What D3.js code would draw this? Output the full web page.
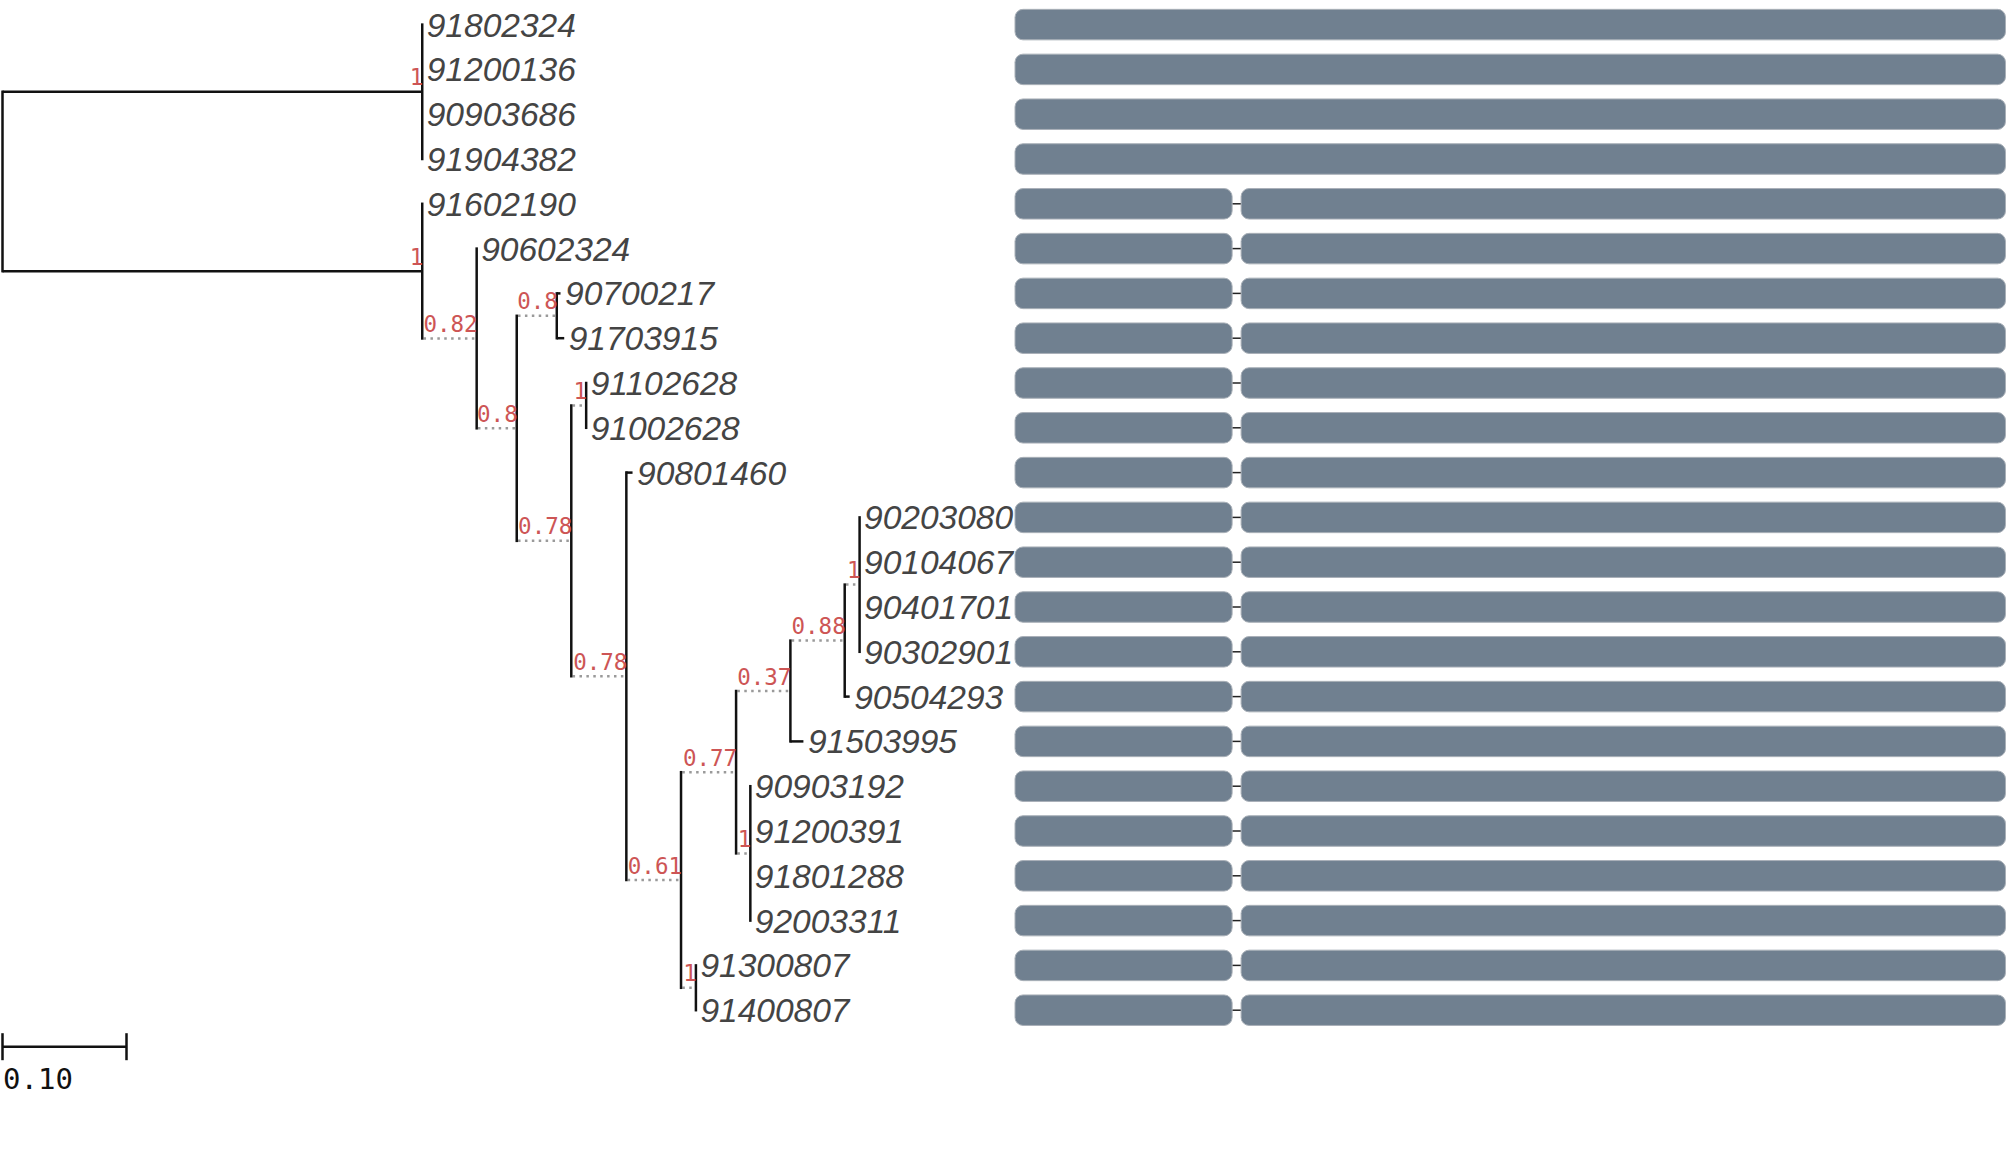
<!DOCTYPE html>
<html>
<head>
<meta charset="utf-8">
<script src="https://cdn.jsdelivr.net/npm/d3@7"></script>
<style>
  body { margin: 0; background: #fff; }
  svg { display: block; }
</style>
</head>
<body>
<div id="chart"></div>
<script>
// tree: node names, parent, branch length, support (null = none)
const nodeNames = ["root", "A", "91802324", "91200136", "90903686", "91904382",
  "B", "91602190", "C", "90602324", "D", "E", "90700217", "91703915",
  "F", "G", "91102628", "91002628", "H", "90801460", "I", "J", "L", "N", "O",
  "90203080", "90104067", "90401701", "90302901", "90504293", "91503995",
  "M", "90903192", "91200391", "91801288", "92003311",
  "K", "91300807", "91400807"];
const nodeParents = ["", "root", "A", "A", "A", "A",
  "root", "B", "B", "C", "C", "D", "E", "E",
  "D", "F", "G", "G", "F", "H", "H", "I", "J", "L", "N",
  "O", "O", "O", "O", "N", "L",
  "J", "M", "M", "M", "M",
  "I", "K", "K"];
const branchLengths = [0, 0.3385, 0, 0, 0, 0,
  0.3385, 0, 0.0439, 0, 0.0323, 0.0323, 0.003, 0.006,
  0.044, 0.012, 0, 0, 0.0444, 0.005, 0.0441, 0.0444, 0.0438, 0.0438, 0.012,
  0, 0, 0, 0, 0.004, 0.0105,
  0.0115, 0, 0, 0, 0,
  0.012, 0, 0];
const supports = [null, 1, null, null, null, null,
  1, null, 0.82, null, 0.8, 0.8, null, null,
  0.78, 1, null, null, 0.78, null, 0.61, 0.77, 0.37, 0.88, 1,
  null, null, null, null, null, null,
  1, null, null, null, null,
  1, null, null];

// gene structure per leaf (sequence coordinates)
const fullGene = [[0, 990]];
const splitGene = [[0, 217], [226, 990]];
const leafGeneModel = ["full", "full", "full", "full",
  "split", "split", "split", "split", "split", "split", "split", "split",
  "split", "split", "split", "split", "split", "split", "split", "split",
  "split", "split", "split"];
const seqLength = 990;
const scaleBarValue = 0.10;

const width = 2007, height = 1159;
const svg = d3.select("#chart").append("svg")
  .attr("width", width).attr("height", height);

const table = nodeNames.map((n, i) => ({
  id: n, parent: nodeParents[i] || null, len: branchLengths[i], support: supports[i]
}));
const root = d3.stratify().id(d => d.id).parentId(d => d.parent)(table);

const x = d3.scaleLinear().domain([0, 1]).range([2.5, 1242.5]);
const leaves = root.leaves();
const y = d3.scalePoint().domain(leaves.map(d => d.id)).range([24.6, 1010.2]);

root.eachBefore(d => { d.dist = d.parent ? d.parent.dist + d.data.len : 0; });
root.eachAfter(d => {
  d.px = x(d.dist);
  d.py = d.children ? (d.children[0].py + d.children[d.children.length - 1].py) / 2 : y(d.id);
});

const g = svg.append("g");

// horizontal branches
root.descendants().filter(d => d.parent).forEach(d => {
  const dotted = d.children && d.parent.parent;
  g.append("line")
    .attr("x1", d.parent.px + (dotted ? 1.3 : 0)).attr("x2", d.px)
    .attr("y1", d.py).attr("y2", d.py)
    .attr("stroke", dotted ? "#9a9a9a" : "#111")
    .attr("stroke-width", 2.5)
    .attr("stroke-dasharray", dotted ? "2.5,4.4" : null);
});

// vertical lines
root.descendants().filter(d => d.children).forEach(d => {
  const c = d.children;
  g.append("line")
    .attr("x1", d.px).attr("x2", d.px)
    .attr("y1", c[0].py).attr("y2", c[c.length - 1].py)
    .attr("stroke", "#111").attr("stroke-width", 2.5)
    .attr("stroke-linecap", "square");
});

// support values
g.selectAll(".support")
  .data(root.descendants().filter(d => d.data.support != null))
  .enter().append("text")
  .attr("class", "support")
  .attr("x", d => d.px + 1)
  .attr("y", d => d.py - 6.5)
  .attr("text-anchor", "end")
  .attr("font-family", "DejaVu Sans Mono")
  .attr("font-size", 22.5)
  .attr("fill", "#cd5555")
  .text(d => d.data.support);

// leaf labels
g.selectAll(".leaf")
  .data(leaves)
  .enter().append("text")
  .attr("class", "leaf")
  .attr("x", d => d.px + 4.5)
  .attr("y", d => d.py + 12)
  .attr("font-family", "Liberation Sans")
  .attr("font-style", "italic")
  .attr("font-size", 33.5)
  .attr("fill", "#444")
  .text(d => d.id);

// gene structures
const sx = d3.scaleLinear().domain([0, seqLength]).range([1015, 2005.5]);
const barH = 30.5;
leaves.forEach((d, i) => {
  const parts = leafGeneModel[i] === "full" ? fullGene : splitGene;
  const row = svg.append("g");
  for (let k = 1; k < parts.length; k++) {
    row.append("line")
      .attr("x1", sx(parts[k - 1][1])).attr("x2", sx(parts[k][0]))
      .attr("y1", d.py).attr("y2", d.py)
      .attr("stroke", "#222").attr("stroke-width", 1.5);
  }
  parts.forEach(p => {
    row.append("rect")
      .attr("x", sx(p[0])).attr("y", d.py - barH / 2)
      .attr("width", sx(p[1]) - sx(p[0])).attr("height", barH)
      .attr("rx", 8).attr("ry", 8)
      .attr("fill", "#708090")
      .attr("stroke", "#a9b0b8").attr("stroke-width", 1);
  });
});

// scale bar
const sb = svg.append("g").attr("stroke", "#111").attr("stroke-width", 2.5);
const sbY = 1046.7;
sb.append("line").attr("x1", x(0)).attr("x2", x(scaleBarValue)).attr("y1", sbY).attr("y2", sbY);
sb.append("line").attr("x1", x(0)).attr("x2", x(0)).attr("y1", sbY - 13.5).attr("y2", sbY + 13.5);
sb.append("line").attr("x1", x(scaleBarValue)).attr("x2", x(scaleBarValue)).attr("y1", sbY - 13.5).attr("y2", sbY + 13.5);
svg.append("text")
  .attr("x", 3).attr("y", 1089)
  .attr("font-family", "DejaVu Sans Mono")
  .attr("font-size", 29)
  .attr("fill", "#111")
  .text(d3.format(".2f")(scaleBarValue));
</script>
</body>
</html>
